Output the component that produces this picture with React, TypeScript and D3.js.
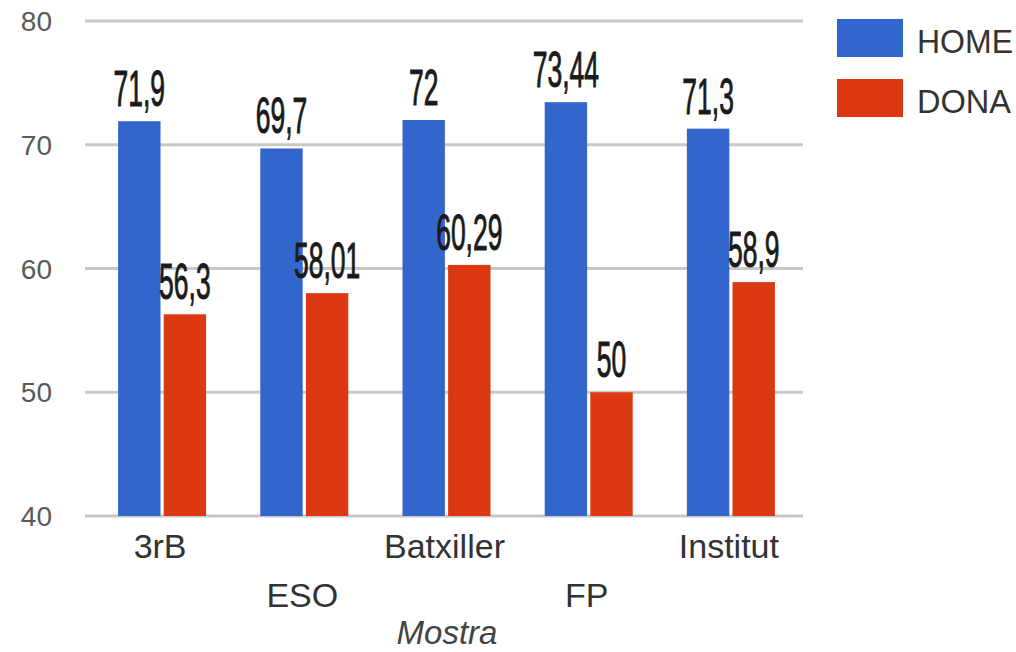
import React from "react";
import * as d3 from "d3";

const categories = ["3rB", "ESO", "Batxiller", "FP", "Institut"];
const series = ["HOME", "DONA"];
const homeValues = [71.9, 69.7, 72, 73.44, 71.3];
const donaValues = [56.3, 58.01, 60.29, 50, 58.9];
const yTicks = [40, 50, 60, 70, 80];
const colors = ["#3366cc", "#dc3912"];
const xTitle = "Mostra";

const W = 1016;
const H = 652;

function fmt(v: number): string {
  return String(v).replace(".", ",");
}

export default function App() {
  const x = d3.scaleBand<string>().domain(categories).range([91, 802]).paddingInner(0).paddingOuter(0);
  const inner = d3.scaleBand<string>().domain(series).range([-44, 44]).paddingInner(0.07);
  const y = d3.scaleLinear().domain([40, 80]).range([516, 21]);
  const data = [homeValues, donaValues];
  const sans = "'Liberation Sans', Arial, sans-serif";

  return (
    <svg width={W} height={H} style={{ position: "absolute", left: 0, top: 0, background: "#fff" }}>
      <rect x={0} y={0} width={W} height={H} fill="#fff" />
      {yTicks.map((t) => (
        <g key={t}>
          <line x1={85} x2={803} y1={y(t)} y2={y(t)} stroke="#c8c8c8" strokeWidth={3} />
          <text x={52} y={y(t) + 10} textAnchor="end" fontFamily={sans} fontSize={28} fill="#5a5a5a">
            {t}
          </text>
        </g>
      ))}
      {categories.map((c, i) => {
        const cx = (x(c) as number) + x.bandwidth() / 2;
        return (
          <g key={c}>
            {series.map((s, j) => {
              const v = data[j][i];
              const bx = cx + (inner(s) as number);
              return (
                <rect key={s} x={bx} y={y(v)} width={inner.bandwidth()} height={y(40) - y(v)} fill={colors[j]} />
              );
            })}
            <text
              x={cx - 2}
              y={i % 2 === 0 ? 558 : 607}
              textAnchor="middle"
              fontFamily={sans}
              fontSize={34}
              fill="#333"
            >
              {c}
            </text>
          </g>
        );
      })}
      {categories.map((c, i) => {
        const cx = (x(c) as number) + x.bandwidth() / 2;
        return series.map((s, j) => {
          const v = data[j][i];
          const lx = cx + (inner(s) as number) + inner.bandwidth() / 2;
          return (
            <text
              key={c + s}
              transform={`translate(${lx},${y(v) - 15}) scale(0.53,1)`}
              textAnchor="middle"
              fontFamily={sans}
              fontSize={50}
              fill="#1a1a1a"
              stroke="#1a1a1a"
              strokeWidth={1}
            >
              {fmt(v)}
            </text>
          );
        });
      })}
      {series.map((s, j) => (
        <g key={s}>
          <rect x={837} y={19 + j * 60} width={66} height={38} fill={colors[j]} />
          <text x={917} y={53 + j * 60} fontFamily={sans} fontSize={33} fill="#333" textLength={s === "HOME" ? 96 : 94} lengthAdjust="spacingAndGlyphs">
            {s}
          </text>
        </g>
      ))}
      <text x={447} y={644} textAnchor="middle" fontFamily={sans} fontSize={33} fontStyle="italic" fill="#444">
        {xTitle}
      </text>
    </svg>
  );
}
